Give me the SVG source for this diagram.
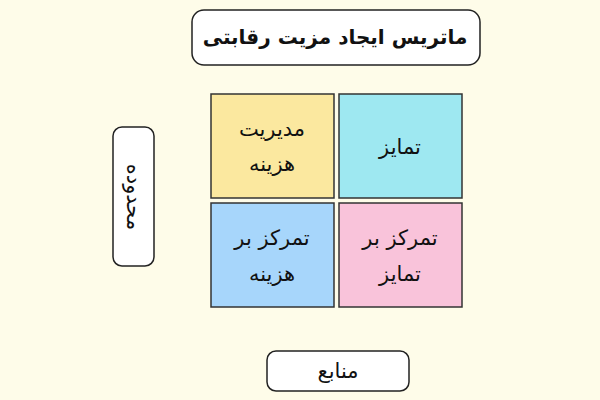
<svg xmlns="http://www.w3.org/2000/svg" width="600" height="400" viewBox="0 0 600 400">
<style>
.box{fill:#ffffff;stroke:#222;stroke-width:1.5}
.cell{stroke:#333;stroke-width:1.5}
text{font-family:"DejaVu Sans",sans-serif;fill:#111;text-anchor:middle;dominant-baseline:central;direction:rtl}
.t{font-size:21px}
.h{font-size:20px;font-weight:bold}
</style>
<rect width="600" height="400" fill="#fefce9"/>
<g id="title"><rect class="box" x="192" y="10" width="288" height="55" rx="12"/><text class="h" x="335" y="37">ماتریس ایجاد مزیت رقابتی</text></g>
<g id="cost-management"><rect class="cell" x="211" y="94" width="123" height="104" fill="#fbe89f"/><text class="t" x="272" y="129">مدیریت</text><text class="t" x="272" y="164">هزینه</text></g>
<g id="differentiation"><rect class="cell" x="339" y="94" width="123" height="104" fill="#9ee8f1"/><text class="t" x="400" y="147">تمایز</text></g>
<g id="cost-focus"><rect class="cell" x="211" y="203" width="123" height="104" fill="#a7d6fb"/><text class="t" x="272" y="238">تمرکز بر</text><text class="t" x="272" y="274">هزینه</text></g>
<g id="diff-focus"><rect class="cell" x="339" y="203" width="123" height="104" fill="#f9c3da"/><text class="t" x="400" y="238">تمرکز بر</text><text class="t" x="400" y="274">تمایز</text></g>
<g id="scope"><rect class="box" x="113" y="127" width="41" height="139" rx="9"/><text class="t" transform="translate(134,197) rotate(90)">محدوده</text></g>
<g id="resources"><rect class="box" x="267" y="351" width="142" height="40" rx="9"/><text class="t" x="338" y="371">منابع</text></g>
<g id="connectors"/>
</svg>
